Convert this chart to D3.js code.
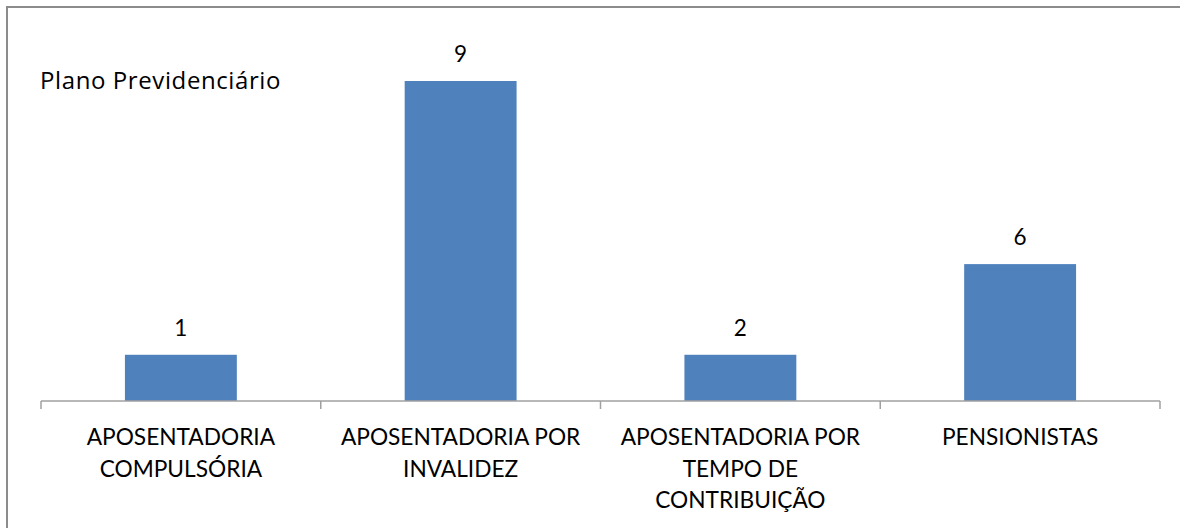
<!DOCTYPE html>
<html>
<head>
<meta charset="utf-8">
<script src="https://cdn.jsdelivr.net/npm/d3@7"></script>
<style>
  html, body { margin: 0; padding: 0; background: #fff; }
  text { font-family: Lato, "Open Sans", sans-serif; fill: #000; }
  text.title { font-family: "Open Sans", Lato, sans-serif; letter-spacing: 0.6px; }
</style>
</head>
<body>
<div class="chart"></div>
<script>
var w = 1180,
  h = 528,
  title = 'Plano Previdenciário';

var categories = ['APOSENTADORIA COMPULSÓRIA', 'APOSENTADORIA POR INVALIDEZ',
  'APOSENTADORIA POR TEMPO DE CONTRIBUIÇÃO', 'PENSIONISTAS'];
// how the category labels wrap under the axis
var tickLines = [
  ['APOSENTADORIA', 'COMPULSÓRIA'],
  ['APOSENTADORIA POR', 'INVALIDEZ'],
  ['APOSENTADORIA POR', 'TEMPO DE', 'CONTRIBUIÇÃO'],
  ['PENSIONISTAS']
];
// data labels printed above the bars
var labels = [1, 9, 2, 6];
// bar heights as drawn in the picture (they do not follow the labels exactly)
var heights = [1.3, 9, 1.3, 3.85];

var margin = {top: 81, right: 20, bottom: 127, left: 41};

var svg = d3.select('.chart')
  .append('svg')
  .attr('width', w)
  .attr('height', h);

// chart frame (cropped on the right and bottom)
svg.append('rect')
  .attr('x', 7)
  .attr('y', 7)
  .attr('width', w)
  .attr('height', h)
  .attr('fill', 'none')
  .attr('stroke', '#8c8c8c')
  .attr('stroke-width', 2);

var x = d3.scaleBand()
  .domain(categories)
  .range([margin.left, 1160])
  .paddingInner(0.6)
  .paddingOuter(0.3);

var y = d3.scaleLinear()
  .domain([0, 9])
  .range([h - margin.bottom, margin.top]);

svg.append('text')
  .attr('class', 'title')
  .attr('x', 40)
  .attr('y', 89)
  .style('font-size', '24px')
  .text(title);

svg.selectAll('rect.bar')
  .data(categories)
  .enter()
  .append('rect')
  .attr('class', 'bar')
  .attr('x', function (d) { return x(d); })
  .attr('y', function (d, i) { return y(heights[i]); })
  .attr('width', x.bandwidth())
  .attr('height', function (d, i) { return y(0) - y(heights[i]); })
  .attr('fill', '#4f81bd');

svg.selectAll('text.val')
  .data(categories)
  .enter()
  .append('text')
  .attr('class', 'val')
  .attr('x', function (d) { return x(d) + x.bandwidth() / 2; })
  .attr('y', function (d, i) { return y(heights[i]) - 19; })
  .attr('text-anchor', 'middle')
  .style('font-size', '22.5px')
  .text(function (d, i) { return labels[i]; });

// x axis: line plus ticks between the categories
var axis = svg.append('g')
  .attr('transform', 'translate(0,' + y(0) + ')');

axis.append('line')
  .attr('x1', x.range()[0])
  .attr('x2', x.range()[1])
  .attr('stroke', '#a0a0a0')
  .attr('stroke-width', 1.5);

var tickPos = categories.map(function (d) { return x(d) - x.step() * x.paddingOuter(); });
tickPos.push(x.range()[1]);

axis.selectAll('line.tick')
  .data(tickPos)
  .enter()
  .append('line')
  .attr('class', 'tick')
  .attr('x1', function (d) { return d; })
  .attr('x2', function (d) { return d; })
  .attr('y1', 0)
  .attr('y2', 8)
  .attr('stroke', '#a0a0a0')
  .attr('stroke-width', 1.5);

var catLabels = axis.selectAll('text.cat')
  .data(categories)
  .enter()
  .append('text')
  .attr('class', 'cat')
  .attr('text-anchor', 'middle')
  .attr('transform', function (d) { return 'translate(' + (x(d) + x.bandwidth() / 2) + ',44)'; })
  .style('font-size', '22.7px');

catLabels.selectAll('tspan')
  .data(function (d, i) { return tickLines[i]; })
  .enter()
  .append('tspan')
  .attr('x', 0)
  .attr('y', function (d, i) { return i * 31.5; })
  .text(function (d) { return d; });
</script>
</body>
</html>
